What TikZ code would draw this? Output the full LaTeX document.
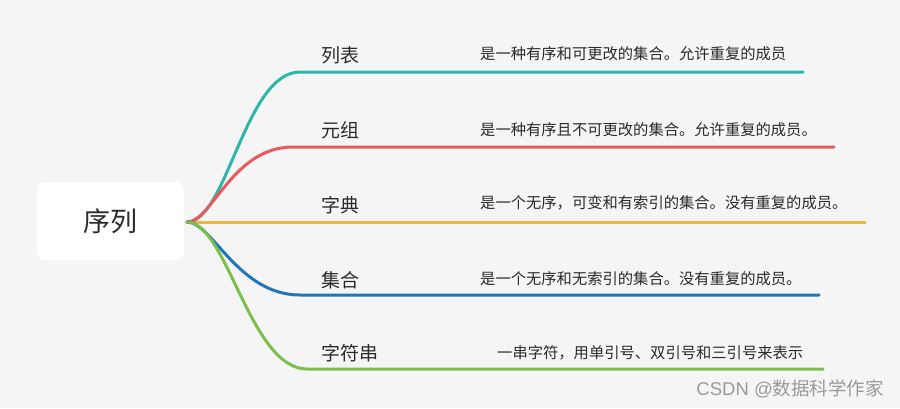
\documentclass[tikz,border=0pt]{standalone}
\usepackage{fontspec}
\setmainfont{Noto Sans CJK SC}
\newfontfamily\wmfont{Liberation Sans}
\newfontfamily\cjkfont{Noto Sans CJK SC}
\definecolor{bg}{HTML}{F5F5F5}
\definecolor{cteal}{HTML}{2DB6A9}
\definecolor{cred}{HTML}{E85A5E}
\definecolor{corange}{HTML}{F0B53E}
\definecolor{cblue}{HTML}{2176B8}
\definecolor{cgreen}{HTML}{7CBF4F}
\definecolor{txt}{HTML}{2A2A2A}
\definecolor{wm}{HTML}{9A9A9A}
\tikzset{
  branch/.style={line width=3pt, line cap=round},
  lbl/.style={anchor=west, inner sep=0pt, text=txt, font=\fontsize{19pt}{21pt}\selectfont},
  desc/.style={anchor=west, inner sep=0pt, text=txt, font=\fontsize{15.3pt}{17pt}\selectfont},
}
\begin{document}
\begin{tikzpicture}[x=1pt,y=-1pt]
\fill[bg] (0,0) rectangle (900,408);
\useasboundingbox (0,0) rectangle (900,408);
\node[fill=white, rounded corners=8pt, minimum width=147pt, minimum height=78pt, inner sep=0pt, text=txt, font=\fontsize{27pt}{30pt}\selectfont] (root) at (110.5,221) {序列};
\coordinate (o) at (187,222);
% end points
\coordinate (h1) at (300,72);  \coordinate (e1) at (803,72);
\coordinate (h2) at (293,147); \coordinate (e2) at (834,147);
\coordinate (e3) at (865,222);
\coordinate (h4) at (300,295); \coordinate (e4) at (819,295);
\coordinate (h5) at (307,369); \coordinate (e5) at (823,369);
\draw[branch, corange] (o) -- (e3);
\draw[branch, cteal] (o) .. controls (227,222) and (245,72) .. (h1) -- (e1);
\draw[branch, cred] (o) .. controls (212,222) and (232,147) .. (h2) -- (e2);
\draw[branch, cblue] (o) .. controls (212,222) and (238,295) .. (h4) -- (e4);
\draw[branch, cgreen] (o) .. controls (227,222) and (250,369) .. (h5) -- (e5);
% labels
\node[lbl] (l1) at (321,55) {列表};
\node[lbl] (l2) at (321,130) {元组};
\node[lbl] (l3) at (321,205) {字典};
\node[lbl] (l4) at (321,280) {集合};
\node[lbl] (l5) at (321,353) {字符串};
% descriptions
\node[desc] (d1) at (480,54) {是一种有序和可更改的集合。允许重复的成员};
\node[desc] (d2) at (480,130) {是一种有序且不可更改的集合。允许重复的成员。};
\node[desc] (d3) at (480,203) {是一个无序，可变和有索引的集合。没有重复的成员。};
\node[desc] (d4) at (480,279) {是一个无序和无索引的集合。没有重复的成员。};
\node[desc] (d5) at (497,353) {一串字符，用单引号、双引号和三引号来表示};
% watermark
\node[anchor=east, inner sep=0pt, text=wm, font=\fontsize{18.5pt}{20pt}\selectfont] (wm) at (884,389) {{\wmfont CSDN @}{\cjkfont 数据科学作家}};
\end{tikzpicture}
\end{document}
